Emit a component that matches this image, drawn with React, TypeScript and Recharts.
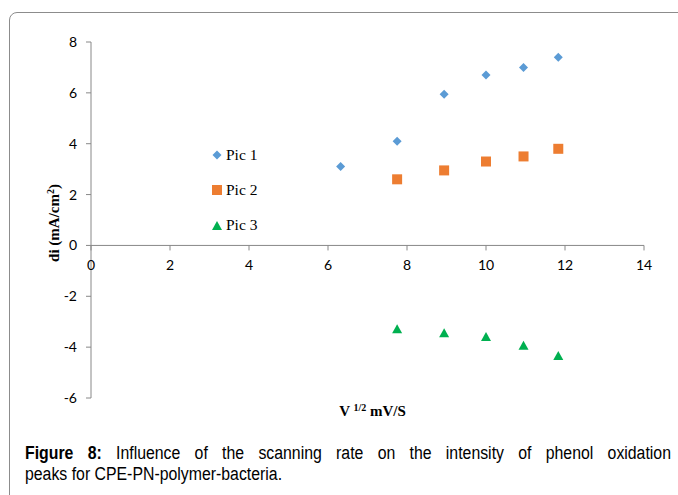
import { ScatterChart, Scatter, XAxis, YAxis, ReferenceLine } from "recharts";

// square root of scan rate (x) and peak current (y)
const pic1X = [6.32, 7.75, 8.94, 10.0, 10.95, 11.83];
const pic1Y = [3.1, 4.1, 5.95, 6.7, 7.0, 7.4];
const pic2X = [7.75, 8.94, 10.0, 10.95, 11.83];
const pic2Y = [2.6, 2.95, 3.3, 3.5, 3.8];
const pic3X = [7.75, 8.94, 10.0, 10.95, 11.83];
const pic3Y = [-3.3, -3.45, -3.6, -3.95, -4.35];

const xTicks = [0, 2, 4, 6, 8, 10, 12, 14];
const yTicks = [-6, -4, -2, 0, 2, 4, 6, 8];

const zip = (xs: number[], ys: number[]) => xs.map((x, i) => ({ x, y: ys[i] }));
const pic1 = zip(pic1X, pic1Y);
const pic2 = zip(pic2X, pic2Y);
const pic3 = zip(pic3X, pic3Y);

const W = 678;
const H = 495;
const M = { top: 42, right: 34, left: 31, bottom: 67 };
const X_AXIS_H = 30;
const PLOT_H = H - M.top - M.bottom - X_AXIS_H;
// pixel row of y = 0 (the x axis crosses there)
const Y0 = M.top + (8 / 14) * PLOT_H;

const AXIS = "#888";
const TICK_FONT = "Lato, 'Open Sans', sans-serif";
const SERIF = "'Liberation Serif', 'DejaVu Serif', serif";

const BLUE = "#5b9bd5";
const ORANGE = "#ed7d31";
const GREEN = "#00b050";

const Diamond = ({ cx, cy }: any) => (
  <polygon points={`${cx},${cy - 4.5} ${cx + 4.5},${cy} ${cx},${cy + 4.5} ${cx - 4.5},${cy}`} fill={BLUE} />
);
const Square = ({ cx, cy }: any) => <rect x={cx - 5} y={cy - 5} width={10} height={10} fill={ORANGE} />;
const Triangle = ({ cx, cy }: any) => (
  <polygon points={`${cx},${cy - 5} ${cx + 5},${cy + 4} ${cx - 5},${cy + 4}`} fill={GREEN} />
);

const XTick = ({ x, payload }: any) => (
  <g>
    <line x1={x} x2={x} y1={Y0} y2={Y0 + 5} stroke={AXIS} />
    <text x={x} y={Y0 + 25} textAnchor="middle" fontSize={14} fontFamily={TICK_FONT} fill="#000">
      {payload.value}
    </text>
  </g>
);

const legendItems = [
  { name: "Pic 1", shape: "diamond" },
  { name: "Pic 2", shape: "square" },
  { name: "Pic 3", shape: "triangle" },
];

const LegendBox = () => (
  <div style={{ position: "absolute", left: 210, top: 137, fontFamily: SERIF, fontSize: 15.5, color: "#000" }}>
    {legendItems.map((it) => (
      <div key={it.name} style={{ display: "flex", alignItems: "center", height: 35 }}>
        <svg width={14} height={14} style={{ marginRight: 2 }}>
          {it.shape === "diamond" && <Diamond cx={7} cy={7} />}
          {it.shape === "square" && <Square cx={7} cy={7} />}
          {it.shape === "triangle" && <Triangle cx={7} cy={8} />}
        </svg>
        <span>{it.name}</span>
      </div>
    ))}
  </div>
);

export default function App() {
  return (
    <div style={{ position: "fixed", left: 0, top: 0, width: W, height: H, overflow: "hidden", background: "#fff" }}>
      <div
        style={{
          position: "absolute",
          left: 9,
          top: 12,
          width: 720,
          height: 540,
          border: "1px solid #8c8c8c",
          borderRadius: 8,
        }}
      />
      <div style={{ position: "absolute", left: 0, top: 0 }}>
        <ScatterChart width={W} height={H} margin={M}>
          <XAxis
            type="number"
            dataKey="x"
            domain={[0, 14]}
            ticks={xTicks}
            height={X_AXIS_H}
            axisLine={false}
            tickLine={false}
            tick={<XTick />}
            label={({ viewBox }: any) => (
              <text
                x={viewBox.x + viewBox.width / 2 + 5}
                y={416}
                textAnchor="middle"
                fontFamily={SERIF}
                fontWeight="bold"
                fontSize={15}
                fill="#000"
              >
                V <tspan fontSize={10} dy={-5}>1/2</tspan>
                <tspan dy={5}> mV/S</tspan>
              </text>
            )}
          />
          <YAxis
            type="number"
            dataKey="y"
            domain={[-6, 8]}
            ticks={yTicks}
            width={60}
            tickSize={5}
            tickMargin={9}
            axisLine={{ stroke: AXIS }}
            tickLine={{ stroke: AXIS }}
            tick={{ fill: "#000", fontSize: 14, fontFamily: TICK_FONT }}
            label={() => (
              <text
                x={0}
                y={0}
                transform={`translate(59, 223) rotate(-90)`}
                textAnchor="middle"
                fontFamily={SERIF}
                fontWeight="bold"
                fontSize={15}
                fill="#000"
              >
                di (mA/cm<tspan fontSize={10} dy={-5}>2</tspan>
                <tspan dy={5}>)</tspan>
              </text>
            )}
          />
          <ReferenceLine y={0} stroke={AXIS} />
          <Scatter name="Pic 1" data={pic1} shape={<Diamond />} isAnimationActive={false} />
          <Scatter name="Pic 2" data={pic2} shape={<Square />} isAnimationActive={false} />
          <Scatter name="Pic 3" data={pic3} shape={<Triangle />} isAnimationActive={false} />
        </ScatterChart>
      </div>
      <LegendBox />
      <div
        style={{
          position: "absolute",
          left: 25,
          top: 443,
          width: 646 / 0.88,
          transform: "scaleX(0.88)",
          transformOrigin: "left top",
          fontFamily: "'Liberation Sans', Arial, sans-serif",
          fontSize: 18,
          lineHeight: "21px",
          color: "#000",
        }}
      >
        <div style={{ textAlign: "justify", textAlignLast: "justify" }}>
          <b>Figure 8:</b> Influence of the scanning rate on the intensity of phenol oxidation
        </div>
        <div>peaks for CPE-PN-polymer-bacteria.</div>
      </div>
    </div>
  );
}
